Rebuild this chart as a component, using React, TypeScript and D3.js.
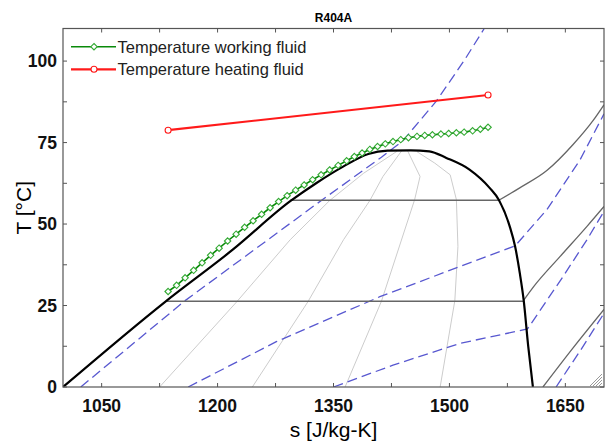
import React from 'react';
import * as d3 from 'd3';

type P = [number, number];

// ---------- axis ticks ----------
const xTickLabels = [1050, 1200, 1350, 1500, 1650];
const xTickMarks = [1050, 1125, 1200, 1275, 1350, 1425, 1500, 1575, 1650];
const yTickLabels = [0, 25, 50, 75, 100];
const yTickMarks = [0, 12.5, 25, 37.5, 50, 62.5, 75, 87.5, 100];

// ---------- saturation dome (s [J/kg-K], T [°C]) ----------
const saturationDome: P[] = [
  [1000, 0], [1133, 26.3], [1220, 42.2], [1294, 57.0], [1328, 62.6], [1363, 67.7],
  [1395, 71.5], [1420, 72.5], [1450, 72.6], [1474, 72.3], [1496, 70.3], [1526, 66.7],
  [1552, 61.1], [1564, 57.4], [1578, 49.3], [1585, 43.1], [1591, 35.0], [1596, 26.8],
  [1602, 12.4], [1608, 0],
];

// two-phase isobars (horizontal) and superheated continuations
const isobarHighSat: P[] = [[1294, 57.3], [1564, 57.3]];
const isobarLowSat: P[] = [[1133, 26.3], [1596, 26.3]];
const isobarHighVap: P[] = [[1564, 57.3], [1591, 61.1], [1626, 66.4], [1660, 74.4], [1686, 81.8], [1700, 86.6]];
const isobarMidVap: P[] = [[1596, 26.6], [1609, 30.8], [1643, 40.0], [1678, 49.3], [1700, 55.4]];
const isobarLowVap: P[] = [[1621, 0], [1660, 12.0], [1700, 23.8]];

// quality lines inside the dome
const quality1: P[] = [[1432, 72.3], [1389, 65.6], [1345, 57.2], [1294, 45.2], [1225, 26.2], [1125, 0]];
const quality2: P[] = [[1438, 72.4], [1414, 64.6], [1397, 57.2], [1363, 45.2], [1317, 26.2], [1245, 0]];
const quality3: P[] = [[1446, 72.4], [1462, 64.6], [1455, 57.5], [1412, 26.3], [1365, 0]];
const quality4: P[] = [[1458, 72.2], [1481, 68.7], [1501, 65.1], [1509, 57.5], [1511, 43.1], [1507, 26.5], [1488, 0]];

// dashed blue lines
const blue1: P[] = [[1023, 0], [1158, 26.5], [1240, 40.8], [1330, 56.5], [1412, 70.5], [1440, 75.6], [1483, 87.7], [1520, 100.5], [1545, 110]];
const blue2: P[] = [[1162, 0], [1276, 13.9], [1410, 27.7], [1514, 37.0], [1585, 43.3], [1626, 54.4], [1669, 69.7], [1700, 83.8]];
const blue3: P[] = [[1350, 0], [1427, 6.7], [1514, 13.4], [1601, 17.8], [1647, 33.9], [1678, 45.2], [1700, 53.9]];
const blue4: P[] = [[1638, 0], [1670, 11.4], [1700, 22.6]];

// process lines
const heatingFluid: P[] = [[1136, 78.8], [1550, 89.6]];
const workingFluid: P[] = [
  [1136, 29.3], [1147, 31.2], [1158, 33.5], [1169, 35.8], [1180, 38.1], [1191, 40.4],
  [1202, 42.6], [1213, 44.8], [1224, 46.9], [1235, 49.0], [1246, 51.0], [1257, 53.0],
  [1268, 55.0], [1279, 56.9], [1290, 58.7], [1301, 60.4], [1312, 62.0], [1323, 63.6],
  [1334, 65.1], [1345, 66.6], [1356, 68.0], [1367, 69.4], [1377, 70.7], [1387, 71.8],
  [1397, 72.9], [1407, 73.8], [1417, 74.6], [1427, 75.3], [1437, 75.9], [1447, 76.5],
  [1458, 76.9], [1468, 77.2], [1478, 77.4], [1489, 77.6], [1499, 77.8], [1509, 78.0],
  [1519, 78.2], [1530, 78.6], [1540, 79.1], [1550, 79.7],
];

const legendLabels = ['Temperature working fluid', 'Temperature heating fluid'];

const W = 607;
const H = 446;
const M = { left: 63, right: 3, top: 28.5, bottom: 59 };
const FONT = "'Liberation Sans', Arial, Helvetica, sans-serif";

const GREEN_LINE = '#0a8a0a';
const GREEN_MARK = '#33aa33';
const RED = '#ff1a1a';
const BLUE = '#5858d0';

function Diamond({ x, y, r, stroke }: { x: number; y: number; r: number; stroke: string }) {
  return (
    <path
      d={`M${x},${y - r}L${x + r},${y}L${x},${y + r}L${x - r},${y}Z`}
      fill="#fff"
      stroke={stroke}
      strokeWidth={1.1}
    />
  );
}

export default function App() {
  const x = d3.scaleLinear().domain([1000, 1700]).range([M.left, W - M.right]);
  const y = d3.scaleLinear().domain([0, 110]).range([H - M.bottom, M.top]);
  const lin = d3.line<P>().x((d) => x(d[0])).y((d) => y(d[1]));
  const smooth = d3.line<P>().x((d) => x(d[0])).y((d) => y(d[1])).curve(d3.curveMonotoneX);

  const x0 = M.left;
  const x1 = W - M.right;
  const y0 = H - M.bottom;
  const y1 = M.top;
  const tick = 4;

  return (
    <svg
      width={W}
      height={H}
      style={{ position: 'absolute', left: 0, top: 0, background: '#fff' }}
      fontFamily={FONT}
    >
      <defs>
        <clipPath id="plotClip">
          <rect x={x0} y={y1} width={x1 - x0} height={y0 - y1} />
        </clipPath>
      </defs>

      <text x={(x0 + x1) / 2} y={22} textAnchor="middle" fontSize={12} fontWeight="bold" fill="#000">
        R404A
      </text>

      <g clipPath="url(#plotClip)" fill="none">
        {[quality1, quality2, quality3, quality4].map((q, i) => (
          <path key={'q' + i} d={lin(q) || ''} stroke="#cccccc" strokeWidth={1} />
        ))}
        {[blue1, blue2, blue3, blue4].map((b, i) => (
          <path key={'b' + i} d={lin(b) || ''} stroke={BLUE} strokeWidth={1.3} strokeDasharray="10,5" />
        ))}
        {[isobarHighSat, isobarLowSat].map((b, i) => (
          <path key={'s' + i} d={lin(b) || ''} stroke="#666" strokeWidth={1.4} />
        ))}
        {[isobarHighVap, isobarMidVap, isobarLowVap].map((b, i) => (
          <path key={'v' + i} d={smooth(b) || ''} stroke="#666" strokeWidth={1.3} />
        ))}
        <path d={smooth(saturationDome) || ''} stroke="#000" strokeWidth={2.2} />

        <path d={lin(heatingFluid) || ''} stroke={RED} strokeWidth={2.2} />
        {heatingFluid.map((d, i) => (
          <circle key={'r' + i} cx={x(d[0])} cy={y(d[1])} r={3} fill="#fff" stroke={RED} strokeWidth={1.1} />
        ))}
        <path d={lin(workingFluid) || ''} stroke={GREEN_LINE} strokeWidth={1.6} />
        {workingFluid.map((d, i) => (
          <Diamond key={'g' + i} x={x(d[0])} y={y(d[1])} r={3.2} stroke={GREEN_MARK} />
        ))}
      </g>

      {/* frame */}
      <rect x={x0} y={y1} width={x1 - x0} height={y0 - y1} fill="none" stroke="#555" strokeWidth={1.2} />
      {xTickMarks.map((t) => (
        <g key={'xt' + t} stroke="#555" strokeWidth={1}>
          <line x1={x(t)} x2={x(t)} y1={y0} y2={y0 - tick} />
          <line x1={x(t)} x2={x(t)} y1={y1} y2={y1 + tick} />
        </g>
      ))}
      {yTickMarks.map((t) => (
        <g key={'yt' + t} stroke="#555" strokeWidth={1}>
          <line x1={x0} x2={x0 + tick} y1={y(t)} y2={y(t)} />
          <line x1={x1} x2={x1 - tick} y1={y(t)} y2={y(t)} />
        </g>
      ))}
      {/* resize grip hatch in the corner */}
      <g stroke="#999" strokeWidth={1}>
        {[0, 1, 2, 3].map((i) => (
          <line key={'h' + i} x1={x1 - 2 - 3 * i - 3} y1={y0 - 1} x2={x1 - 2} y2={y0 - 1 - 3 * i - 3} />
        ))}
      </g>

      {xTickLabels.map((t) => (
        <text key={'xl' + t} x={x(t)} y={411.5} textAnchor="middle" fontSize={17.5} fontWeight="bold" fill="#111">
          {t}
        </text>
      ))}
      {yTickLabels.map((t) => (
        <text key={'yl' + t} x={57} y={y(t) + 6.3} textAnchor="end" fontSize={17.5} fontWeight="bold" fill="#111">
          {t}
        </text>
      ))}

      <text x={(x0 + x1) / 2} y={437} textAnchor="middle" fontSize={21} fill="#000">
        s [J/kg-K]
      </text>
      <text
        transform={`translate(31,${(y0 + y1) / 2}) rotate(-90)`}
        textAnchor="middle"
        fontSize={21}
        fill="#000"
      >
        T [°C]
      </text>

      {/* legend */}
      <g>
        <line x1={71} x2={116} y1={46.7} y2={46.7} stroke={GREEN_LINE} strokeWidth={1.6} />
        <Diamond x={94} y={46.7} r={3.2} stroke={GREEN_MARK} />
        <text x={117.5} y={52.5} fontSize={16.5} fill="#222">{legendLabels[0]}</text>
        <line x1={71} x2={116} y1={69.3} y2={69.3} stroke={RED} strokeWidth={2.2} />
        <circle cx={94} cy={69.3} r={3} fill="#fff" stroke={RED} strokeWidth={1.1} />
        <text x={117.5} y={75.1} fontSize={16.5} fill="#222">{legendLabels[1]}</text>
      </g>
    </svg>
  );
}
